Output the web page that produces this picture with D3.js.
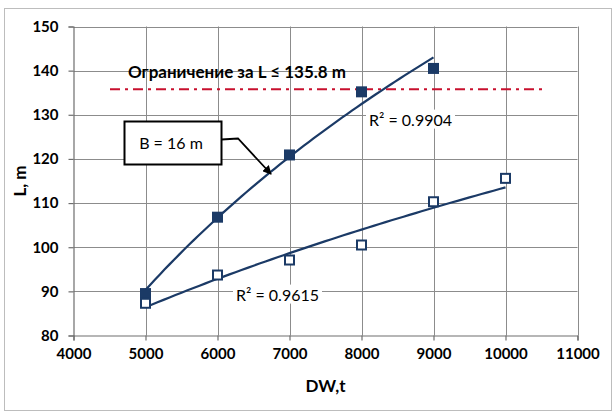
<!DOCTYPE html>
<html>
<head>
<meta charset="utf-8">
<script src="https://cdn.jsdelivr.net/npm/d3@7"></script>
<style>
  html, body { margin: 0; padding: 0; background: #fff; }
  svg { display: block; font-family: Lato, "Liberation Sans", sans-serif; }
</style>
</head>
<body>
<svg id="chart" width="616" height="417"></svg>
<script>
// Deadweight (t) against ship length L (m)
const dwB16 = [5000, 6000, 7000, 8000, 9000];
const lenB16 = [89.5, 106.8, 120.9, 135.2, 140.5];
const dwOther = [5000, 6000, 7000, 8000, 9000, 10000];
const lenOther = [87.3, 93.7, 97.1, 100.5, 110.3, 115.6];

const xTicks = [4000, 5000, 6000, 7000, 8000, 9000, 10000, 11000];
const yTicks = [80, 90, 100, 110, 120, 130, 140, 150];
const limitL = 135.8;
const limitLabel = "Ограничение за L ≤ 135.8 m";
const r2Upper = "R² = 0.9904";
const r2Lower = "R² = 0.9615";
const calloutLabel = "B = 16 m";

const navy = "#1b3a66";
const gridColor = "#8c8c8c";

const svg = d3.select("#chart");

// outer chart frame
svg.append("rect")
  .attr("x", 4.5).attr("y", 8.5).attr("width", 607).attr("height", 402)
  .attr("fill", "#fff").attr("stroke", "#bdbdbd").attr("stroke-width", 1);

const x = d3.scaleLinear().domain([4000, 11000]).range([73.5, 577.5]);
const y = d3.scaleLinear().domain([80, 150]).range([335.5, 26.5]);

// gridlines
const grid = svg.append("g");
grid.selectAll("line.v").data(xTicks.slice(1)).join("line")
  .attr("x1", d => Math.round(x(d)) + 0.5).attr("x2", d => Math.round(x(d)) + 0.5)
  .attr("y1", y(150)).attr("y2", y(80))
  .attr("stroke", gridColor).attr("stroke-width", 1);
grid.selectAll("line.h").data(yTicks.slice(1)).join("line")
  .attr("x1", x(4000)).attr("x2", x(11000))
  .attr("y1", d => Math.round(y(d)) + 0.5).attr("y2", d => Math.round(y(d)) + 0.5)
  .attr("stroke", gridColor).attr("stroke-width", 1);

// axes
const xAxis = d3.axisBottom(x).tickValues(xTicks).tickSize(5).tickPadding(8).tickFormat(d3.format("d"));
const yAxis = d3.axisLeft(y).tickValues(yTicks).tickSize(5).tickPadding(10).tickFormat(d3.format("d"));

const gx = svg.append("g").attr("transform", `translate(0,${y(80)})`).call(xAxis);
const gy = svg.append("g").attr("transform", `translate(${x(4000)},0)`).call(yAxis);
[gx, gy].forEach(g => {
  g.select(".domain").attr("stroke", "#6e6e6e").attr("stroke-width", 1.2);
  g.selectAll(".tick line").attr("stroke", "#6e6e6e").attr("stroke-width", 1.2);
  g.selectAll(".tick text")
    .attr("fill", "#000").attr("font-size", 15).attr("font-weight", "bold")
    .attr("font-family", "Lato, 'Liberation Sans', sans-serif");
});

// axis titles
svg.append("text").attr("x", x(7500)).attr("y", 392)
  .attr("text-anchor", "middle").attr("font-size", 17).attr("font-weight", "bold")
  .text("DW,t");
svg.append("text").attr("transform", "translate(26,181) rotate(-90)")
  .attr("text-anchor", "middle").attr("font-size", 17).attr("font-weight", "bold")
  .text("L, m");

// limit line
svg.append("line")
  .attr("x1", 110).attr("x2", 545)
  .attr("y1", y(limitL)).attr("y2", y(limitL))
  .attr("stroke", "#c8102e").attr("stroke-width", 2)
  .attr("stroke-dasharray", "10,5,3,5");
svg.append("text").attr("x", 237).attr("y", 78)
  .attr("text-anchor", "middle").attr("font-size", 17).attr("font-weight", "bold")
  .text(limitLabel);

// trendlines: logarithmic fit for B = 16 m, power fit for the other series
function logFit(xs, ys) {
  const lx = xs.map(Math.log);
  const mx = d3.mean(lx), my = d3.mean(ys);
  const a = d3.sum(lx, (v, i) => (v - mx) * (ys[i] - my)) / d3.sum(lx, v => (v - mx) ** 2);
  const b = my - a * mx;
  return v => a * Math.log(v) + b;
}
function powerFit(xs, ys) {
  const lx = xs.map(Math.log), ly = ys.map(Math.log);
  const mx = d3.mean(lx), my = d3.mean(ly);
  const b = d3.sum(lx, (v, i) => (v - mx) * (ly[i] - my)) / d3.sum(lx, v => (v - mx) ** 2);
  const a = Math.exp(my - b * mx);
  return v => a * Math.pow(v, b);
}
const fUpper = logFit(dwB16, lenB16);
const fLower = powerFit(dwOther, lenOther);

const line = d3.line().x(d => x(d[0])).y(d => y(d[1])).curve(d3.curveLinear);
function samples(f, x0, x1) {
  return d3.range(0, 61).map(i => { const v = x0 + (x1 - x0) * i / 60; return [v, f(v)]; });
}
svg.append("path").attr("d", line(samples(fUpper, d3.min(dwB16), d3.max(dwB16))))
  .attr("fill", "none").attr("stroke", navy).attr("stroke-width", 2.2);
svg.append("path").attr("d", line(samples(fLower, d3.min(dwOther), d3.max(dwOther))))
  .attr("fill", "none").attr("stroke", navy).attr("stroke-width", 2.2);

// R² labels with white backing
function boxedLabel(lx, cy, txt) {
  const g = svg.append("g");
  const t = g.append("text").attr("x", lx).attr("y", cy).attr("dy", "0.35em")
    .attr("font-size", 16).text(txt);
  const bb = t.node().getBBox();
  g.insert("rect", "text").attr("x", bb.x - 3).attr("y", bb.y).attr("width", bb.width + 6)
    .attr("height", bb.height).attr("fill", "#fff");
}
boxedLabel(369, 120, r2Upper);
boxedLabel(236, 295, r2Lower);

// markers
const ms = 11;
svg.append("g").selectAll("rect").data(dwB16.map((d, i) => [d, lenB16[i]])).join("rect")
  .attr("x", d => x(d[0]) - ms / 2).attr("y", d => y(d[1]) - ms / 2)
  .attr("width", ms).attr("height", ms).attr("fill", navy);
svg.append("g").selectAll("rect").data(dwOther.map((d, i) => [d, lenOther[i]])).join("rect")
  .attr("x", d => x(d[0]) - (ms - 2) / 2).attr("y", d => y(d[1]) - (ms - 2) / 2)
  .attr("width", ms - 2).attr("height", ms - 2)
  .attr("fill", "#fff").attr("stroke", navy).attr("stroke-width", 2);

// callout
svg.append("rect").attr("x", 124.5).attr("y", 121.5).attr("width", 97).attr("height", 43)
  .attr("fill", "#fff").attr("stroke", "#000").attr("stroke-width", 2);
svg.append("text").attr("x", 171).attr("y", 143).attr("dy", "0.35em")
  .attr("text-anchor", "middle").attr("font-size", 16).text(calloutLabel);
svg.append("defs").append("marker").attr("id", "arrow")
  .attr("viewBox", "0 0 10 10").attr("refX", 9).attr("refY", 5)
  .attr("markerWidth", 5).attr("markerHeight", 5).attr("orient", "auto")
  .append("path").attr("d", "M0,0 L10,5 L0,10 z").attr("fill", "#000");
svg.append("polyline").attr("points", "221.5,139.5 238,138.5 271,174")
  .attr("fill", "none").attr("stroke", "#000").attr("stroke-width", 1.8)
  .attr("marker-end", "url(#arrow)");
</script>
</body>
</html>
